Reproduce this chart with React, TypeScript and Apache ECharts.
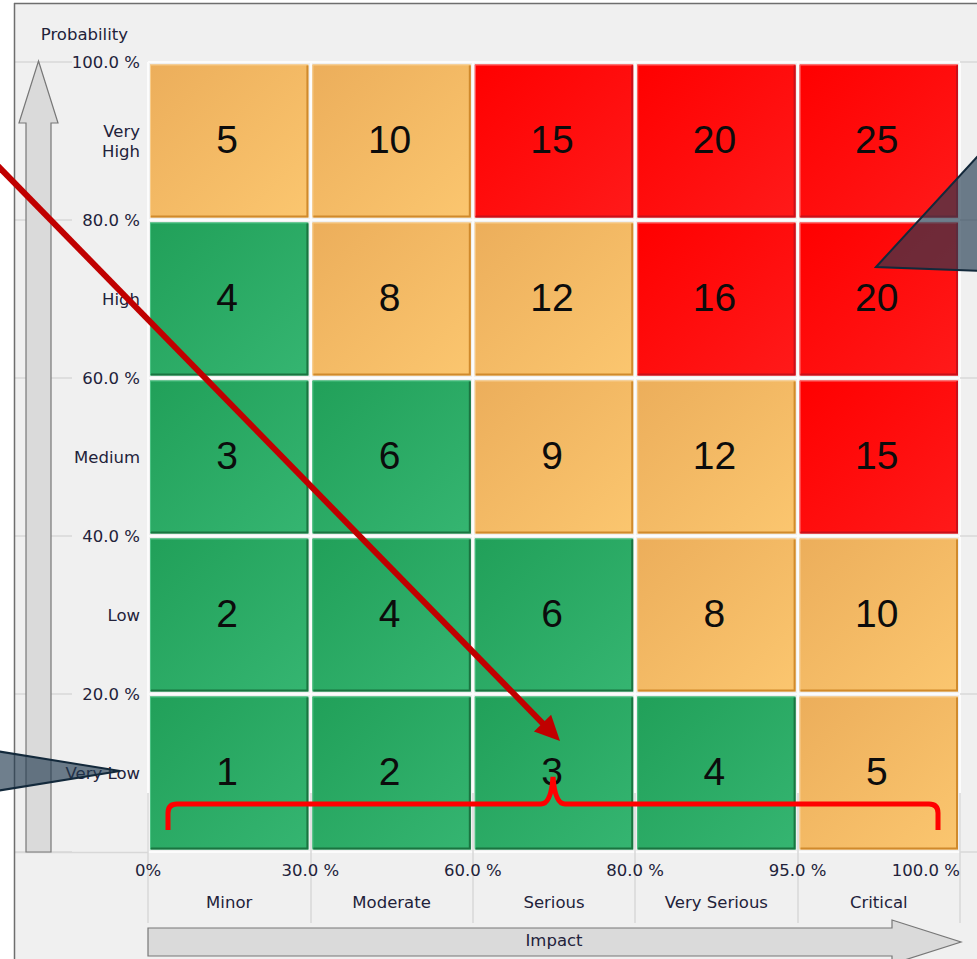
import React, { useEffect, useRef } from 'react';
import * as echarts from 'echarts';

// Axis categories and boundary tick labels
const impactLevels = ['Minor', 'Moderate', 'Serious', 'Very Serious', 'Critical'];
const probabilityLevels = ['Very Low', 'Low', 'Medium', 'High', 'Very\nHigh'];
const impactTicks = ['0%', '30.0 %', '60.0 %', '80.0 %', '95.0 %', '100.0 %'];
const probabilityTicks = ['', '20.0 %', '40.0 %', '60.0 %', '80.0 %', '100.0 %'];

// Risk score per cell, one row per probability level (Very Low first)
const riskScores = [
  [1, 2, 3, 4, 5],
  [2, 4, 6, 8, 10],
  [3, 6, 9, 12, 15],
  [4, 8, 12, 16, 20],
  [5, 10, 15, 20, 25],
];

// Risk band per cell: L = low (green), M = medium (amber), H = high (red)
const riskBands = [
  ['L', 'L', 'L', 'L', 'M'],
  ['L', 'L', 'L', 'M', 'M'],
  ['L', 'L', 'M', 'M', 'H'],
  ['L', 'M', 'M', 'H', 'H'],
  ['M', 'M', 'H', 'H', 'H'],
];

const bandStyles: Record<string, { from: string; to: string; edge: string; light: string }> = {
  L: { from: '#21A059', to: '#35B571', edge: '#1A7440', light: '#4CC283' },
  M: { from: '#ECAE5B', to: '#FBC66F', edge: '#D08A2C', light: '#F8CC8A' },
  H: { from: '#FF0000', to: '#FF1A1A', edge: '#C8101A', light: '#FF6A6A' },
};

// Layout of the plot area
const GRID_LEFT = 148;
const GRID_TOP = 62;
const GRID_W = 812;
const GRID_H = 790;
const GRID_RIGHT = GRID_LEFT + GRID_W;
const GRID_BOTTOM = GRID_TOP + GRID_H;

const FONT = "'DejaVu Sans', Verdana, sans-serif";
const TEXT_COLOR = '#22223a';
const LINE_COLOR = '#D8D8D8';

// Curly brace drawn under the bottom row
echarts.graphic.registerShape(
  'riskBrace',
  echarts.graphic.extendPath(
    'M168,830 L168,813 Q168,804 177,804 L541,804 Q551,804 553,777 Q555,804 565,804 L929,804 Q938,804 938,813 L938,830',
    {}
  )
);

const cellData: number[][] = [];
const cellBands: string[] = [];
riskScores.forEach((row, p) => {
  row.forEach((score, i) => {
    cellData.push([i, p, score]);
    cellBands.push(riskBands[p][i]);
  });
});

const renderCell = (params: any, api: any) => {
  const c = api.coord([api.value(0), api.value(1)]);
  const s = api.size([1, 1]);
  const band = bandStyles[cellBands[params.dataIndex]];
  const x0 = c[0] - s[0] / 2 + 2;
  const y0 = c[1] - s[1] / 2 + 2.5;
  const w = s[0] - 4;
  const h = s[1] - 5;
  return {
    type: 'group',
    children: [
      {
        type: 'rect',
        shape: { x: x0, y: y0, width: w, height: h },
        style: {
          fill: new echarts.graphic.LinearGradient(0, 0, 1, 1, [
            { offset: 0, color: band.from },
            { offset: 1, color: band.to },
          ]),
        },
      },
      {
        type: 'polyline',
        shape: { points: [[x0 + 0.5, y0 + h - 1], [x0 + 0.5, y0 + 0.5], [x0 + w - 1, y0 + 0.5]] },
        style: { stroke: band.light, lineWidth: 1, fill: null },
      },
      {
        type: 'polyline',
        shape: { points: [[x0 + w - 1, y0 + 1], [x0 + w - 1, y0 + h - 1], [x0 + 1, y0 + h - 1]] },
        style: { stroke: band.edge, lineWidth: 2, fill: null },
      },
      {
        type: 'text',
        x: c[0] - 2,
        y: c[1] - 2,
        style: {
          text: String(api.value(2)),
          fill: '#0c0c0c',
          fontSize: 39,
          fontFamily: "'Liberation Sans', Arial, sans-serif",
          align: 'center',
          verticalAlign: 'middle',
        },
      },
    ],
  };
};

const labelStyle = { color: TEXT_COLOR, fontSize: 16.5, fontFamily: FONT };

// Pointer arrow from the upper left towards the "Serious / Very Low" cell
const arrowFrom = [-5, 163];
const arrowTip = [560, 741];
const headLen = 25;
const headHalf = 12;
const dx = arrowTip[0] - arrowFrom[0];
const dy = arrowTip[1] - arrowFrom[1];
const len = Math.sqrt(dx * dx + dy * dy);
const ux = dx / len;
const uy = dy / len;
const baseX = arrowTip[0] - headLen * ux;
const baseY = arrowTip[1] - headLen * uy;

const option: any = {
  animation: false,
  backgroundColor: '#F0F0F0',
  grid: {
    left: GRID_LEFT,
    top: GRID_TOP,
    width: GRID_W,
    height: GRID_H,
    containLabel: false,
    outerBoundsMode: 'none',
  },
  xAxis: [
    {
      type: 'category',
      data: impactLevels,
      position: 'bottom',
      offset: 36,
      axisLine: { show: false },
      axisTick: { show: true, interval: 0, length: 71, lineStyle: { color: LINE_COLOR, width: 1.5 } },
      axisLabel: { ...labelStyle, margin: 6, interval: 0 },
      splitLine: { show: false },
    },
    {
      type: 'value',
      min: 0,
      max: 5,
      interval: 1,
      position: 'bottom',
      offset: 0,
      axisLine: { show: false },
      axisTick: { show: false },
      axisLabel: {
        ...labelStyle,
        margin: 10,
        alignMaxLabel: 'right',
        formatter: (v: number) => impactTicks[Math.round(v)],
      },
      splitLine: { show: true, lineStyle: { color: '#FCFCFC', width: 2 } },
    },
    {
      type: 'category',
      data: impactLevels,
      position: 'top',
      axisLine: { show: false },
      axisTick: { show: true, interval: 0, length: 59, lineStyle: { color: LINE_COLOR, width: 1.5 } },
      axisLabel: { show: false },
      splitLine: { show: false },
    },
    {
      type: 'category',
      data: impactLevels,
      position: 'bottom',
      offset: 36,
      z: 20,
      axisLine: { show: false },
      axisTick: { show: false },
      axisLabel: { show: false },
      splitLine: { show: false },
      name: 'Impact',
      nameLocation: 'middle',
      nameGap: 44,
      nameTextStyle: { ...labelStyle },
    },
  ],
  yAxis: [
    {
      type: 'category',
      data: probabilityLevels,
      position: 'left',
      axisLine: { show: false },
      axisTick: { show: false },
      axisLabel: { ...labelStyle, margin: 8, lineHeight: 20, interval: 0, align: 'right' },
      splitLine: { show: false },
    },
    {
      type: 'value',
      min: 0,
      max: 5,
      interval: 1,
      position: 'left',
      offset: 0,
      axisLine: { show: false },
      axisTick: { show: false },
      axisLabel: { ...labelStyle, margin: 8, formatter: (v: number) => probabilityTicks[Math.round(v)] },
      splitLine: { show: true, lineStyle: { color: '#FCFCFC', width: 2 } },
      name: 'Probability',
      nameLocation: 'end',
      nameGap: 19,
      nameTextStyle: { ...labelStyle, align: 'right', padding: [0, 20, 0, 0] },
    },
    {
      type: 'value',
      min: 0,
      max: 5,
      interval: 1,
      position: 'left',
      offset: 76,
      axisLine: { show: false },
      axisTick: { show: true, length: 57, lineStyle: { color: LINE_COLOR, width: 1.5 } },
      axisLabel: { show: false },
      splitLine: { show: false },
    },
    {
      type: 'value',
      min: 0,
      max: 5,
      interval: 1,
      position: 'right',
      offset: 0,
      axisLine: { show: false },
      axisTick: { show: true, length: 17, lineStyle: { color: LINE_COLOR, width: 1.5 } },
      axisLabel: { show: false },
      splitLine: { show: false },
    },
  ],
  series: [
    {
      type: 'custom',
      coordinateSystem: 'cartesian2d',
      xAxisIndex: 0,
      yAxisIndex: 0,
      encode: { x: 0, y: 1 },
      data: cellData,
      renderItem: renderCell,
      z: 2,
    },
  ],
  graphic: [
    // panel frame
    { type: 'rect', z: 5, shape: { x: 0, y: 0, width: 977, height: 3 }, style: { fill: '#FFFFFF' } },
    { type: 'rect', z: 5, shape: { x: 0, y: 0, width: 14, height: 959 }, style: { fill: '#FFFFFF' } },
    { type: 'line', z: 6, shape: { x1: 14, y1: 3.5, x2: 977, y2: 3.5 }, style: { stroke: '#6E6E6E', lineWidth: 1.5 } },
    { type: 'line', z: 6, shape: { x1: 14.5, y1: 3, x2: 14.5, y2: 959 }, style: { stroke: '#6E6E6E', lineWidth: 1.5 } },
    { type: 'line', z: 4, shape: { x1: 15, y1: GRID_BOTTOM + 0.5, x2: GRID_LEFT, y2: GRID_BOTTOM + 0.5 }, style: { stroke: LINE_COLOR, lineWidth: 1.5 } },
    // probability axis arrow
    {
      type: 'polygon',
      z: 10,
      shape: {
        points: [
          [38.5, GRID_TOP - 1], [58, 123], [51, 123], [51, GRID_BOTTOM],
          [26, GRID_BOTTOM], [26, 123], [19, 123],
        ],
      },
      style: { fill: '#DADADA', stroke: '#777777', lineWidth: 1.2 },
    },
    // impact axis arrow
    {
      type: 'polygon',
      z: 10,
      shape: {
        points: [
          [GRID_LEFT, 928], [892, 928], [892, 920], [GRID_RIGHT + 1, 942],
          [892, 964], [892, 956], [GRID_LEFT, 956],
        ],
      },
      style: { fill: '#DADADA', stroke: '#777777', lineWidth: 1.2 },
    },
    // red brace under the bottom row
    {
      type: 'riskBrace',
      z: 100,
      x: 0,
      y: 0,
      style: { fill: 'none', stroke: '#FF0000', lineWidth: 5 },
    },
    // dark red pointer arrow
    {
      type: 'line',
      z: 100,
      shape: { x1: arrowFrom[0], y1: arrowFrom[1], x2: baseX + ux * 2, y2: baseY + uy * 2 },
      style: { stroke: '#C00000', lineWidth: 6 },
    },
    {
      type: 'polygon',
      z: 100,
      shape: {
        points: [
          [arrowTip[0], arrowTip[1]],
          [baseX - headHalf * uy, baseY + headHalf * ux],
          [baseX + headHalf * uy, baseY - headHalf * ux],
        ],
      },
      style: { fill: '#C00000' },
    },
    // callout wedges
    {
      type: 'polygon',
      z: 100,
      shape: { points: [[876, 267], [1010, 121], [1010, 272]] },
      style: { fill: 'rgba(34,58,80,0.65)', stroke: '#13293B', lineWidth: 2 },
    },
    {
      type: 'polygon',
      z: 100,
      shape: { points: [[120, 771], [-10, 750], [-10, 792]] },
      style: { fill: 'rgba(34,58,80,0.65)', stroke: '#13293B', lineWidth: 2 },
    },
  ],
};

export default function App() {
  const ref = useRef<HTMLDivElement>(null);
  useEffect(() => {
    document.body.style.margin = '0';
    const chart = echarts.init(ref.current as HTMLDivElement, null, { renderer: 'svg' });
    chart.setOption(option);
    return () => chart.dispose();
  }, []);
  return <div ref={ref} style={{ width: 977, height: 959 }} />;
}
